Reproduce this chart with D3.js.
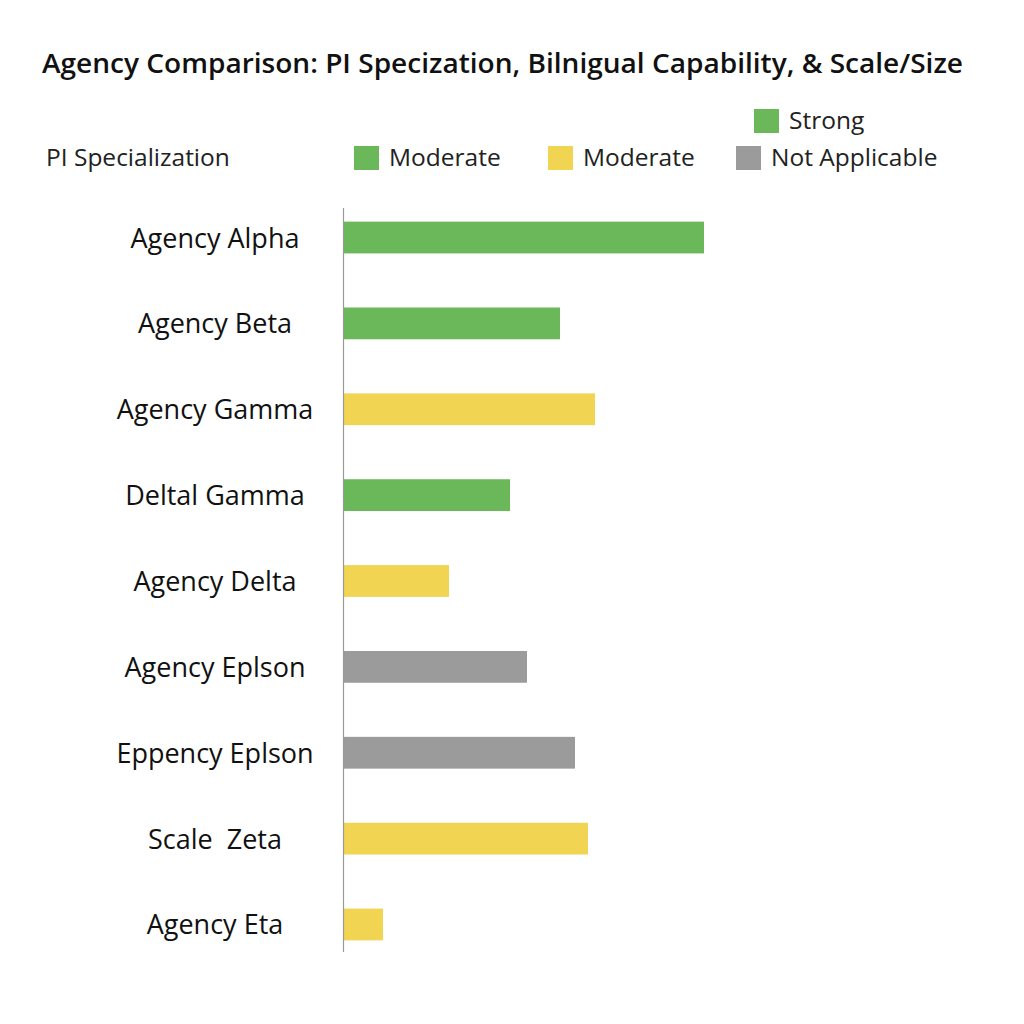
<!DOCTYPE html>
<html><head><meta charset="utf-8">
<script src="https://cdn.jsdelivr.net/npm/d3@7"></script>
<style>body{margin:0;background:#fff;font-family:"Open Sans","Noto Sans",sans-serif;}</style>
</head><body>
<svg id="c" width="1024" height="1024"></svg>
<script>
const categories = ["Agency Alpha","Agency Beta","Agency Gamma","Deltal Gamma","Agency Delta","Agency Eplson","Eppency Eplson","Scale  Zeta","Agency Eta"];
const values = [361,217,252,167,106,184,232,245,40];
const levels = ["Strong","Strong","Moderate","Strong","Moderate","NA","NA","Moderate","Moderate"];
const legendItems = [
  {label:"Strong", key:"Strong", x:754, y:121},
  {label:"Moderate", key:"Strong", x:354, y:158},
  {label:"Moderate", key:"Moderate", x:548, y:158},
  {label:"Not Applicable", key:"NA", x:736, y:158}
];
const color = d3.scaleOrdinal().domain(["Strong","Moderate","NA"]).range(["#6ab85a","#f0d452","#9b9b9b"]);
const svg = d3.select("#c");
svg.append("text").attr("x",42).attr("y",73).attr("font-size",27.5).attr("font-weight",600).attr("fill","#111")
  .attr("textLength",921).attr("lengthAdjust","spacingAndGlyphs")
  .text("Agency Comparison: PI Specization, Bilnigual Capability, & Scale/Size");
svg.append("text").attr("x",46).attr("y",166).attr("font-size",24.5).attr("fill","#222").text("PI Specialization");
legendItems.forEach(l=>{
  svg.append("rect").attr("x",l.x).attr("y",l.y-12).attr("width",25).attr("height",24).attr("fill",color(l.key));
  svg.append("text").attr("x",l.x+35).attr("y",l.y+8).attr("font-size",24.5).attr("fill","#222").text(l.label);
});
const x = d3.scaleLinear().domain([0,400]).range([343,743]);
const y = d3.scaleBand().domain(categories).range([195,967]).paddingInner(0.63).paddingOuter(0.31);
svg.selectAll("rect.bar").data(categories).enter().append("rect").attr("class","bar")
  .attr("x",x(0)).attr("y",d=>y(d)).attr("height",y.bandwidth())
  .attr("width",(d,i)=>x(values[i])-x(0)).attr("fill",(d,i)=>color(levels[i]));
svg.append("line").attr("x1",343.5).attr("x2",343.5).attr("y1",208).attr("y2",952).attr("stroke","#999").attr("stroke-width",1.2);
svg.selectAll("text.lab").data(categories).enter().append("text").attr("class","lab")
  .attr("x",215).attr("y",d=>y(d)+y.bandwidth()/2+10).attr("text-anchor","middle")
  .attr("font-size",27).attr("fill","#111").attr("xml:space","preserve").style("white-space","pre").text(d=>d);
</script>
</body></html>
